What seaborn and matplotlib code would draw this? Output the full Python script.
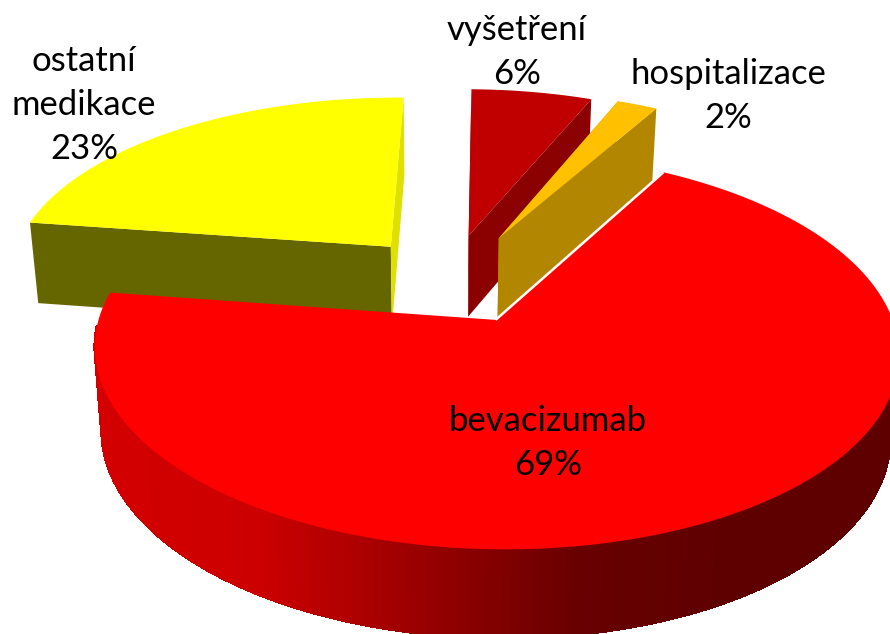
import numpy as np
import seaborn as sns
import matplotlib.pyplot as plt

labels = ["bevacizumab", "ostatní\nmedikace", "vyšetření", "hospitalizace"]
shares = [69, 23, 6, 2]

top_colors = ["#ff0000", "#ffff00", "#c00000", "#ffc000"]
front_walls = ["#8b0000", "#666600", "#5a0000", "#b38600"]
side_walls = ["#8b0000", "#e0e000", "#8b0000", "#b38600"]
explode = [(0.135, -0.252), (-0.137, 0.15), (0.072, 0.215), (0.153, 0.20)]
label_pos = [(548, 443), (84, 105), (517, 52), (728, 96)]

sns.set_theme(style="white")
plt.rcParams["font.family"] = ["Lato", "DejaVu Sans"]

# simple perspective, v points away from the viewer, z goes down
CX, CY, RX, RY, K, DEPTH = 442, 273, 382, 179, 0.151, 82


def project(u, v, z=0.0):
    u, v = np.asarray(u, float), np.asarray(v, float)
    d = 1 + K * v
    return CX + RX * u / d * (1 - 0.02 * z), CY - RY * v / d + DEPTH * z / (1 + 0.4 * K * v)


def arc_points(a0, a1, off, n=160):
    t = np.radians(np.linspace(a0, a1, n))
    return off[0] + np.sin(t), off[1] + np.cos(t)


fig = plt.figure(figsize=(8.9, 6.34), dpi=100)
ax = fig.add_axes([0, 0, 1, 1])
ax.set_xlim(0, 890)
ax.set_ylim(634, 0)
ax.axis("off")

# angles measured clockwise from north
bounds = 29.9 + np.cumsum([0] + shares) * 3.6
gradient = sns.blend_palette(["#d40000", "#cc0000", "#9a0000", "#680000", "#5e0000", "#5e0000"], 300)


def draw_slice(i):
    a0, a1 = bounds[i], bounds[i + 1]
    off = explode[i]
    u, v = arc_points(a0, a1, off)
    if i == 0:
        # outer wall of the big slice, thin strips for the shading
        fine_u, fine_v = arc_points(a0, a1, off, 700)
        fx0, fy0 = project(fine_u, fine_v, 0)
        fx1, fy1 = project(fine_u, fine_v, 1)
        lo, hi = fx0.min(), fx0.max()
        for j in range(len(fine_u) - 1):
            if fine_v[j] > off[1] - 0.03:
                continue
            c = gradient[int((fx0[j] - lo) / (hi - lo) * 299)]
            ax.fill([fx0[j], fx0[j + 1], fx1[j + 1], fx1[j]],
                    [fy0[j], fy0[j + 1], fy1[j + 1], fy1[j]],
                    color=c, lw=1.2, antialiased=False)
    else:
        for a, col in [(a0, front_walls[i]), (a1, side_walls[i])]:
            eu, ev = off[0] + np.sin(np.radians(a)), off[1] + np.cos(np.radians(a))
            pts = [project(off[0], off[1], 0), project(eu, ev, 0), project(eu, ev, 1), project(off[0], off[1], 1)]
            ax.fill([p[0] for p in pts], [p[1] for p in pts], color=col, lw=0)
    px, py = project(np.r_[off[0], u], np.r_[off[1], v], 0)
    ax.fill(px, py, color=top_colors[i], lw=0)
    if i == 0:
        # white gap along the cut next to the orange slice
        ax.plot(px[:2], py[:2], color="white", lw=1.8, solid_capstyle="butt")


for i in [2, 3, 1, 0]:
    draw_slice(i)

for label, share, (x, y) in zip(labels, shares, label_pos):
    ax.text(x, y, f"{label}\n{share}%", ha="center", va="center", fontsize=24.9,
            color="black", linespacing=1.48)

plt.savefig("out.png", dpi=100)
